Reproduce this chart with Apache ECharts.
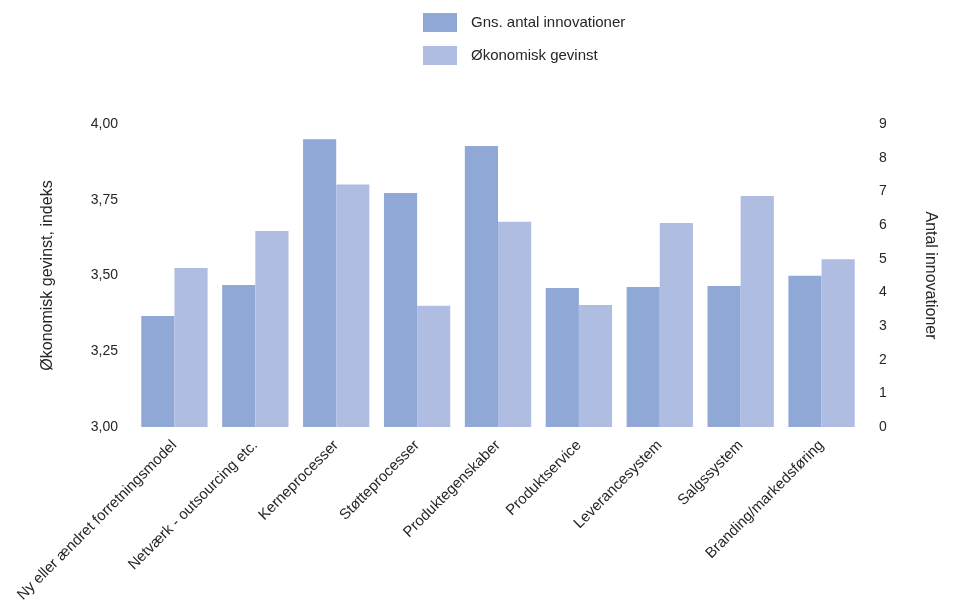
<!DOCTYPE html>
<html>
<head>
<meta charset="utf-8">
<script src="https://cdn.jsdelivr.net/npm/echarts@6/dist/echarts.min.js"></script>
<style>
  html, body { margin: 0; padding: 0; background: #fff; }
  #chart { width: 954px; height: 606px; }
</style>
</head>
<body>
<div id="chart"></div>
<script>
// Innovation areas along the x axis
const categories = [
  'Ny eller ændret forretningsmodel',
  'Netværk - outsourcing etc.',
  'Kerneprocesser',
  'Støtteprocesser',
  'Produktegenskaber',
  'Produktservice',
  'Leverancesystem',
  'Salgssystem',
  'Branding/markedsføring'
];

// Average number of innovations (right axis, 0–9)
const antalInnovationer = [3.30, 4.22, 8.55, 6.95, 8.35, 4.13, 4.16, 4.19, 4.49];

// Economic gain index (left axis, 3.00–4.00)
const oekonomiskGevinst = [3.525, 3.647, 3.80, 3.40, 3.677, 3.403, 3.673, 3.762, 3.554];

const seriesNames = ['Gns. antal innovationer', 'Økonomisk gevinst'];
const leftAxisName = 'Økonomisk gevinst, indeks';
const rightAxisName = 'Antal innovationer';

const FONT = '"Liberation Sans", Arial, sans-serif';
const TEXT = '#262626';

const chart = echarts.init(document.getElementById('chart'));
chart.setOption({
  animation: false,
  textStyle: { fontFamily: FONT },
  legend: {
    orient: 'vertical',
    left: 418,
    top: 8,
    itemWidth: 34,
    itemHeight: 19,
    itemGap: 14,
    icon: 'rect',
    textStyle: { fontFamily: FONT, fontSize: 15, color: TEXT, padding: [0, 0, 0, 9] },
    data: seriesNames
  },
  grid: { left: 134, right: 92, top: 124, bottom: 179, containLabel: false },
  xAxis: {
    type: 'category',
    data: categories,
    axisLine: { show: false },
    axisTick: { show: false },
    axisLabel: {
      interval: 0,
      rotate: 45,
      margin: 16,
      fontFamily: FONT,
      fontSize: 15,
      color: TEXT
    }
  },
  yAxis: [
    {
      type: 'value',
      position: 'left',
      min: 3,
      max: 4,
      interval: 0.25,
      name: leftAxisName,
      nameLocation: 'middle',
      nameGap: 78,
      nameTextStyle: { fontFamily: FONT, fontSize: 16, color: TEXT },
      axisLine: { show: false },
      axisTick: { show: false },
      splitLine: { show: false },
      axisLabel: {
        margin: 16,
        fontFamily: FONT,
        fontSize: 14,
        color: TEXT,
        formatter: v => v.toFixed(2).replace('.', ',')
      }
    },
    {
      type: 'value',
      position: 'right',
      min: 0,
      max: 9,
      interval: 1,
      name: rightAxisName,
      nameLocation: 'middle',
      nameGap: 60,
      nameRotate: -90,
      nameTextStyle: { fontFamily: FONT, fontSize: 16, color: TEXT },
      axisLine: { show: false },
      axisTick: { show: false },
      splitLine: { show: false },
      axisLabel: {
        margin: 17,
        fontFamily: FONT,
        fontSize: 14,
        color: TEXT
      }
    }
  ],
  series: [
    {
      name: seriesNames[0],
      type: 'bar',
      yAxisIndex: 1,
      data: antalInnovationer,
      barGap: '0%',
      barCategoryGap: '18%',
      itemStyle: { color: '#90a8d6' }
    },
    {
      name: seriesNames[1],
      type: 'bar',
      yAxisIndex: 0,
      data: oekonomiskGevinst,
      barGap: '0%',
      barCategoryGap: '18%',
      itemStyle: { color: '#afbde2' }
    }
  ]
});
</script>
</body>
</html>
